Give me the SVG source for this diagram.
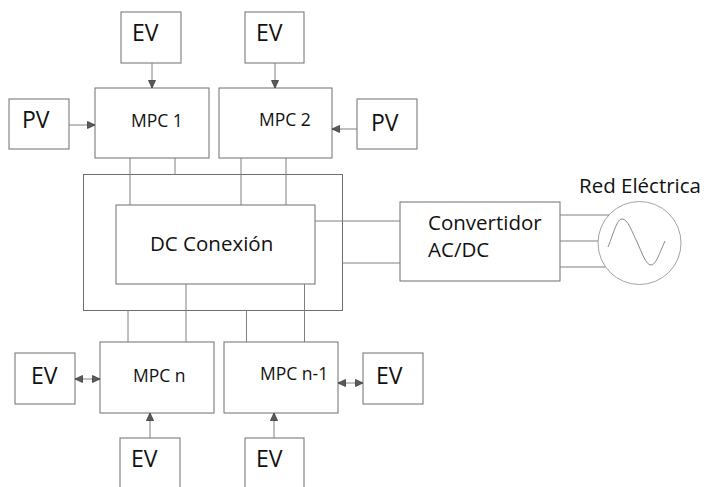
<svg xmlns="http://www.w3.org/2000/svg" width="708" height="487" viewBox="0 0 708 487">
<style>
.box{fill:#fff;stroke:#6f6f6f;stroke-width:1}
.frame{fill:none;stroke:#6f6f6f;stroke-width:1}
.ln{fill:none;stroke:#808080;stroke-width:1}
.t{font-family:"Open Sans","Liberation Sans",sans-serif;fill:#111}
.big{font-size:20.5px}
.ev{font-size:23px}
.mpc{font-size:17.5px}
</style>
<defs>
<marker id="ah" markerUnits="userSpaceOnUse" markerWidth="9" markerHeight="9" viewBox="0 0 9 9" refX="8.5" refY="4.5" orient="auto-start-reverse">
<path d="M1,1 L8.5,4.5 L1,8 z" fill="#5a5a5a" stroke="#3c3c3c" stroke-width="0.8"/>
</marker>
</defs>
<rect width="708" height="487" fill="#fff"/>
<g id="ev-top-1"><rect class="box" x="121" y="12" width="60" height="51"/><text class="t ev" x="132" y="41">EV</text></g>
<g id="ev-top-2"><rect class="box" x="245" y="12" width="59" height="51"/><text class="t ev" x="256" y="41">EV</text></g>
<g id="pv-left"><rect class="box" x="9" y="99" width="60" height="50"/><text class="t ev" x="22" y="128">PV</text></g>
<g id="pv-right"><rect class="box" x="357" y="99" width="60" height="50"/><text class="t ev" x="371" y="131">PV</text></g>
<g id="mpc1"><rect class="box" x="95" y="88" width="114" height="70"/><text class="t mpc" x="131" y="127">MPC 1</text></g>
<g id="mpc2"><rect class="box" x="219" y="88" width="113" height="70"/><text class="t mpc" x="259" y="126">MPC 2</text></g>
<g id="dc-outer"><rect class="frame" x="83.5" y="174.5" width="259" height="136"/></g>
<g id="dc-conexion"><rect class="frame" x="116" y="205" width="199" height="79"/><text class="t big" x="150" y="251">DC Conexión</text></g>
<g id="convertidor"><rect class="box" x="400" y="202" width="160" height="79"/><text class="t big" x="428" y="230">Convertidor</text><text class="t big" x="428" y="257">AC/DC</text></g>
<g id="red-electrica">
<circle cx="639.5" cy="243" r="41.5" fill="#fff" stroke="#a3a3a3" stroke-width="1"/>
<path d="M608,247 C614,232 617,219 622,219 C628,219 632,232 637,242 C642,253 646,265 651,265 C656,265 660,252 665,241" fill="none" stroke="#8a8a8a" stroke-width="1"/>
<text class="t big" x="579" y="193">Red Eléctrica</text>
</g>
<g id="mpc-n"><rect class="box" x="100" y="342" width="114" height="71"/><text class="t mpc" x="133" y="382">MPC n</text></g>
<g id="mpc-n-1"><rect class="box" x="224" y="342" width="114" height="71"/><text class="t mpc" x="260" y="380">MPC n-1</text></g>
<g id="ev-left"><rect class="box" x="15" y="353" width="60" height="51"/><text class="t ev" x="31" y="384">EV</text></g>
<g id="ev-right"><rect class="box" x="363" y="353" width="60" height="51"/><text class="t ev" x="376" y="384">EV</text></g>
<g id="ev-bottom-1"><rect class="box" x="120" y="438" width="60" height="60"/><text class="t ev" x="131" y="467">EV</text></g>
<g id="ev-bottom-2"><rect class="box" x="245" y="438" width="59" height="60"/><text class="t ev" x="256" y="467">EV</text></g>
<g id="connectors">
<line class="ln" x1="152" y1="63" x2="152" y2="88" marker-end="url(#ah)"/>
<line class="ln" x1="275" y1="63" x2="275" y2="88" marker-end="url(#ah)"/>
<line class="ln" x1="69" y1="125" x2="95" y2="125" marker-end="url(#ah)"/>
<line class="ln" x1="357" y1="129" x2="332" y2="129" marker-end="url(#ah)"/>
<line class="ln" x1="130" y1="158" x2="130" y2="205"/>
<line class="ln" x1="175" y1="158" x2="175" y2="174.5"/>
<line class="ln" x1="241" y1="158" x2="241" y2="205"/>
<line class="ln" x1="286" y1="158" x2="286" y2="205"/>
<line class="ln" x1="315" y1="221" x2="400" y2="221"/>
<line class="ln" x1="342.5" y1="263" x2="400" y2="263"/>
<line class="ln" x1="128" y1="310.5" x2="128" y2="342"/>
<line class="ln" x1="186" y1="284" x2="186" y2="342"/>
<line class="ln" x1="246.5" y1="310.5" x2="246.5" y2="342"/>
<line class="ln" x1="304.5" y1="284" x2="304.5" y2="342"/>
<line class="ln" x1="150" y1="438" x2="150" y2="413" marker-end="url(#ah)"/>
<line class="ln" x1="274" y1="438" x2="274" y2="413" marker-end="url(#ah)"/>
<line class="ln" x1="75" y1="379" x2="100" y2="379" marker-start="url(#ah)" marker-end="url(#ah)"/>
<line class="ln" x1="338" y1="383" x2="363" y2="383" marker-start="url(#ah)" marker-end="url(#ah)"/>
<line class="ln" x1="560" y1="215" x2="609" y2="215"/>
<line class="ln" x1="560" y1="241" x2="598" y2="241"/>
<line class="ln" x1="560" y1="267" x2="605.5" y2="267"/>
</g>
</svg>
